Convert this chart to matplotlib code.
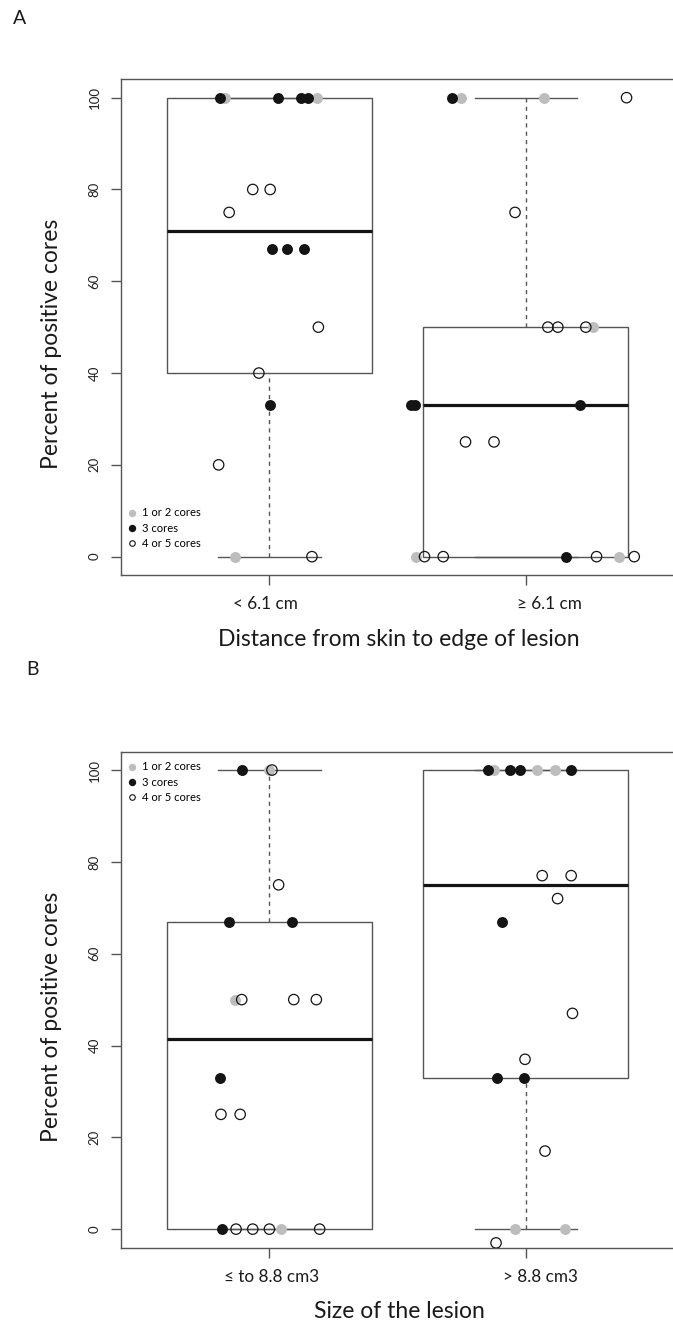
import matplotlib
matplotlib.use("Agg")
import matplotlib.pyplot as plt
from matplotlib.patches import Rectangle
from matplotlib.lines import Line2D

plt.rcParams['font.family'] = ['Lato', 'DejaVu Sans']

# ---- data (x = jittered group position, y = percent of positive cores) ----
# panel A: distance from skin to edge of lesion
a_groups = ["< 6.1 cm", "\u2265 6.1 cm"]
a_box = [(0, 40, 71, 100, 100), (0, 0, 33, 50, 100)]   # lo, q1, median, q3, hi
a_gray_x = [0.825, 1.184, 0.866, 1.747, 2.072, 2.261, 1.570, 2.363]
a_gray_y = [100, 100, 0, 100, 100, 50, 0, 0]
a_black_x = [0.806, 1.032, 1.124, 1.150, 1.009, 1.068, 1.133, 1.003,
             1.712, 1.554, 1.569, 2.210, 2.155]
a_black_y = [100, 100, 100, 100, 67, 67, 67, 33, 100, 33, 33, 33, 0]
a_open_x = [0.935, 1.003, 0.843, 1.191, 0.959, 0.802, 1.166,
            2.393, 1.958, 2.086, 2.125, 2.234, 1.765, 1.876, 1.605, 1.678, 2.276, 2.423]
a_open_y = [80, 80, 75, 50, 40, 20, 0, 100, 75, 50, 50, 50, 25, 25, 0, 0, 0, 0]

# panel B: size of the lesion
b_groups = ["\u2264 to 8.8 cm3", "> 8.8 cm3"]
b_box = [(0, 0, 41.5, 67, 100), (0, 33, 75, 100, 100)]
b_gray_x = [1.000, 0.866, 1.046, 1.877, 2.042, 2.113, 1.959, 2.154]
b_gray_y = [100, 50, 0, 100, 100, 100, 0, 0]
b_black_x = [0.892, 0.844, 1.088, 0.807, 0.816, 1.854, 1.939, 1.977, 2.177,
             1.906, 1.887, 1.994]
b_black_y = [100, 67, 67, 33, 0, 100, 100, 100, 100, 67, 33, 33]
b_open_x = [1.010, 1.036, 0.892, 1.095, 1.183, 0.811, 0.886, 0.870, 0.935, 1.000, 1.196,
            2.064, 2.177, 2.124, 2.182, 1.997, 2.075, 1.884]
b_open_y = [100, 75, 50, 50, 50, 25, 25, 0, 0, 0, 0, 77, 77, 72, 47, 37, 17, -3]

legend_labels = ["1 or 2 cores", "3 cores", "4 or 5 cores"]
yticks = [0, 20, 40, 60, 80, 100]

W, H = 673, 1326
fig = plt.figure(figsize=(W / 100, H / 100), dpi=100)

LINE = '#555555'
GRAY = '#bdbdbd'
BLACK = '#141414'


def fx(x):
    return x / W


def fy(y):
    return 1 - y / H


def panel(top, bottom, groups, box, gray, black, opn, xlabel, ticklab_x, leg_top):
    ax = fig.add_axes([fx(120.7), fy(bottom), fx(674.5) - fx(120.7), fy(top) - fy(bottom)])
    ax.set_xlim(0.42, 2.58)
    ax.set_ylim(-4, 104)
    for i, (lo, q1, med, q3, hi) in enumerate(box):
        c = i + 1
        ax.add_patch(Rectangle((c - 0.4, q1), 0.8, q3 - q1, fill=False,
                               ec=LINE, lw=1.0, zorder=2))
        ax.plot([c - 0.4, c + 0.4], [med, med], color=BLACK, lw=2.3, zorder=3,
                solid_capstyle='butt')
        if hi > q3:
            ax.plot([c, c], [q3, hi], color=LINE, lw=1.0, ls=(0, (3, 3)), zorder=2)
        if lo < q1:
            ax.plot([c, c], [lo, q1], color=LINE, lw=1.0, ls=(0, (3, 3)), zorder=2)
        ax.plot([c - 0.2, c + 0.2], [hi, hi], color=LINE, lw=1.0, zorder=2)
        ax.plot([c - 0.2, c + 0.2], [lo, lo], color=LINE, lw=1.0, zorder=2)

    ax.scatter(gray[0], gray[1], s=62, color=GRAY, lw=0, zorder=4)
    ax.scatter(black[0], black[1], s=62, color=BLACK, lw=0, zorder=5)
    ax.scatter(opn[0], opn[1], s=56, facecolors='none', edgecolors=BLACK, lw=0.9, zorder=6)

    for s in ['left', 'top', 'bottom']:
        ax.spines[s].set_color(LINE)
        ax.spines[s].set_linewidth(1.0)
    ax.spines['right'].set_visible(False)

    ax.set_yticks(yticks)
    ax.set_yticklabels([str(v) for v in yticks], fontsize=9.5, color='#222222')
    ax.tick_params(axis='y', length=7.5, width=1.0, color=LINE, pad=7, labelrotation=90)
    for lab in ax.get_yticklabels():
        lab.set_va('center')
    ax.set_xticks([1, 2])
    ax.set_xticklabels(['', ''])
    ax.tick_params(axis='x', length=7, width=1.0, color=LINE)

    for g, xp in zip(groups, ticklab_x):
        fig.text(fx(xp), fy(bottom + 29), g, ha='center', va='center',
                 fontsize=12.3, color='#1a1a1a')
    fig.text(fx(399), fy(bottom + 64), xlabel, ha='center', va='center',
             fontsize=16.5, color='#1a1a1a')
    fig.text(fx(51.7), fy((top + bottom) / 2 + 17), "Percent of positive cores",
             rotation=90, ha='center', va='center', fontsize=16.5, color='#1a1a1a')

    handles = [Line2D([], [], ls='', marker='o', ms=4.3, mfc=GRAY, mec=GRAY),
               Line2D([], [], ls='', marker='o', ms=4.3, mfc=BLACK, mec=BLACK),
               Line2D([], [], ls='', marker='o', ms=4.0, mfc='none', mec=BLACK, mew=0.8)]
    ax.legend(handles, legend_labels, loc='upper left', frameon=False, fontsize=8.1,
              bbox_to_anchor=(fx(127.5), fy(leg_top)), bbox_transform=fig.transFigure,
              handlelength=0.8, handletextpad=0.5, labelspacing=0.36,
              borderpad=0, borderaxespad=0)
    return ax


panel(79.3, 575.0, a_groups, a_box, (a_gray_x, a_gray_y), (a_black_x, a_black_y),
      (a_open_x, a_open_y), "Distance from skin to edge of lesion", (265.3, 549.5), 507.5)
panel(751.7, 1247.5, b_groups, b_box, (b_gray_x, b_gray_y), (b_black_x, b_black_y),
      (b_open_x, b_open_y), "Size of the lesion", (271.7, 540.7), 761.5)

fig.text(fx(12.7), fy(18), "A", ha='left', va='center', fontsize=14, color='#1a1a1a')
fig.text(fx(26.7), fy(669.5), "B", ha='left', va='center', fontsize=14, color='#1a1a1a')

fig.savefig("out.png", dpi=100)
